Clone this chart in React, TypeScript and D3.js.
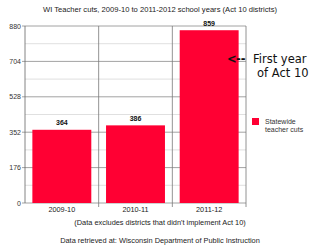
import React from "react";
import * as d3 from "d3";

const categories = ["2009-10", "2010-11", "2011-12"];
const cuts = [364, 386, 859];
const yTicks = [0, 176, 352, 528, 704, 880];
const minorTicks = [88, 264, 440, 616, 792];

const W = 320, H = 247;
const left = 25, right = 246, top = 26, bottom = 203;
const font = "Liberation Sans, Arial, sans-serif";
const annoFont = "DejaVu Sans, Verdana, sans-serif";
const red = "#ff0033";

export default function App() {
  const x = d3.scaleBand<string>().domain(categories).range([left, right]).paddingInner(0.2).paddingOuter(0.1);
  const xb = d3.scaleBand<string>().domain(categories).range([left, right]);
  const y = d3.scaleLinear().domain([0, 880]).range([bottom, top]);
  const seps = [left, ...categories.map((c) => (xb(c) as number) + xb.bandwidth())];
  return (
    <svg width={W} height={H} style={{ position: "absolute", left: 0, top: 0, background: "#fff" }} fontFamily={font}>
      <rect x={0} y={0} width={W} height={H} fill="#fff" />
      <text x={160} y={12} textAnchor="middle" fontSize={7.6} fill="#222">
        WI Teacher cuts, 2009-10 to 2011-2012 school years (Act 10 districts)
      </text>
      {minorTicks.map((t) => (
        <line key={"m" + t} x1={left} x2={right} y1={y(t)} y2={y(t)} stroke="#d8d8d8" strokeWidth={0.8} />
      ))}
      {yTicks.map((t) => (
        <g key={"t" + t}>
          <line x1={left - 3} x2={right} y1={y(t)} y2={y(t)} stroke="#8a8a8a" strokeWidth={0.8} />
          <text x={left - 4} y={y(t) + 2.5} textAnchor="end" fontSize={7} fill="#333">{t}</text>
        </g>
      ))}
      {seps.map((s, i) => (
        <line key={"s" + i} x1={s} x2={s} y1={top} y2={bottom + (i === 0 ? 0 : 4)} stroke={i === 0 ? "#666" : "#777"} strokeWidth={0.8} />
      ))}
      {categories.map((c, i) => (
        <g key={c}>
          <rect x={x(c)} y={y(cuts[i])} width={x.bandwidth()} height={bottom - y(cuts[i])} fill={red} />
          <text x={(x(c) as number) + x.bandwidth() / 2} y={y(cuts[i]) - 4.5} textAnchor="middle" fontSize={7} fontWeight="bold" fill="#111">{cuts[i]}</text>
          <text x={(xb(c) as number) + xb.bandwidth() / 2} y={212} textAnchor="middle" fontSize={7.3} fill="#222">{c}</text>
        </g>
      ))}
      <g fontFamily={annoFont} fill="#111">
        <text x={227} y={63} fontSize={11.5} fontWeight="bold">&lt;</text>
        <text x={236} y={63} fontSize={11.5} fontWeight="bold">--</text>
        <text x={253} y={63} fontSize={11.5}>First year</text>
        <text x={257} y={77} fontSize={11.5}>of Act 10</text>
      </g>
      <rect x={252} y={118} width={7} height={7} fill={red} />
      <text x={265} y={124} fontSize={7} fill="#333">Statewide</text>
      <text x={265} y={132} fontSize={7} fill="#333">teacher cuts</text>
      <text x={160} y={225} textAnchor="middle" fontSize={7.4} fill="#222">(Data excludes districts that didn't implement Act 10)</text>
      <text x={160} y={243} textAnchor="middle" fontSize={7.4} fill="#222">Data retrieved at: Wisconsin Department of Public Instruction</text>
    </svg>
  );
}
